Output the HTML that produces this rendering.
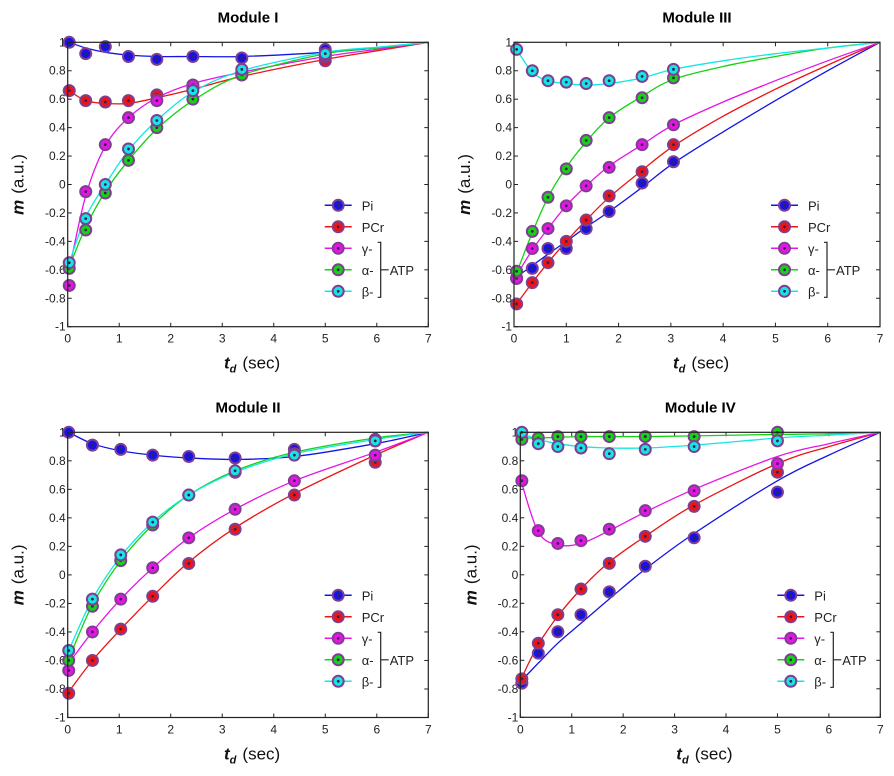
<!DOCTYPE html>
<html><head><meta charset="utf-8"><style>
body{margin:0;background:#fff;}
svg{display:block;font-family:"Liberation Sans",sans-serif;}
</style></head><body>
<svg id="chart" width="894" height="776"></svg>
<script>
// Module I
const tI=[0.03,0.35,0.73,1.18,1.73,2.43,3.38,5.0];
const fitTI=[0.03,0.35,0.73,1.18,1.73,2.43,3.38,5.0,6,7];
const piI=[1.0,0.92,0.97,0.90,0.88,0.90,0.89,0.95];
const piIfit=[1.0,0.96,0.93,0.91,0.90,0.90,0.90,0.93,0.96,1];
const pcrI=[0.66,0.59,0.58,0.59,0.63,0.68,0.78,0.87];
const pcrIfit=[0.66,0.59,0.57,0.57,0.61,0.67,0.76,0.88,0.94,1];
const gI=[-0.71,-0.05,0.28,0.47,0.59,0.70,0.79,0.90];
const gIfit=[-0.60,-0.08,0.27,0.47,0.61,0.71,0.79,0.90,0.95,1];
const aI=[-0.59,-0.32,-0.06,0.17,0.40,0.60,0.77,0.91];
const aIfit=[-0.58,-0.30,-0.05,0.17,0.39,0.59,0.77,0.92,0.96,1];
const bI=[-0.55,-0.24,0.0,0.25,0.45,0.66,0.81,0.92];
const bIfit=[-0.55,-0.23,0.0,0.24,0.45,0.65,0.80,0.93,0.965,1];
// Module III
const tIII=[0.05,0.35,0.65,1.0,1.38,1.82,2.45,3.05];
const fitTIII=[0.05,0.35,0.65,1.0,1.38,1.82,2.45,3.05,4,5,6,7];
const piIII=[-0.66,-0.59,-0.45,-0.45,-0.31,-0.19,0.01,0.16];
const piIIIfit=[-0.65,-0.57,-0.49,-0.40,-0.30,-0.19,-0.02,0.15,0.37,0.59,0.80,1];
const pcrIII=[-0.84,-0.69,-0.55,-0.40,-0.25,-0.08,0.09,0.28];
const pcrIIIfit=[-0.84,-0.69,-0.55,-0.40,-0.25,-0.09,0.10,0.27,0.48,0.67,0.84,1];
const gIII=[-0.66,-0.45,-0.31,-0.15,-0.01,0.12,0.28,0.42];
const gIIIfit=[-0.64,-0.46,-0.31,-0.15,-0.01,0.13,0.28,0.42,0.58,0.73,0.87,1];
const aIII=[-0.61,-0.33,-0.09,0.11,0.31,0.47,0.61,0.75];
const aIIIfit=[-0.62,-0.34,-0.09,0.12,0.30,0.47,0.62,0.74,0.83,0.90,0.96,1];
const bIII=[0.95,0.80,0.73,0.72,0.71,0.73,0.76,0.81];
const bIIIfit=[0.95,0.79,0.73,0.71,0.70,0.71,0.75,0.81,0.87,0.92,0.96,1];
// Module II
const tII=[0.02,0.48,1.03,1.65,2.35,3.25,4.4,5.97];
const fitTII=[0.02,0.48,1.03,1.65,2.35,3.25,4.4,5.97,7];
const piII=[1.0,0.91,0.88,0.84,0.83,0.82,0.88,0.94];
const piIIfit=[1.0,0.92,0.87,0.84,0.82,0.81,0.83,0.92,1];
const pcrII=[-0.83,-0.60,-0.38,-0.15,0.08,0.32,0.56,0.79];
const pcrIIfit=[-0.82,-0.60,-0.38,-0.15,0.09,0.33,0.57,0.84,1];
const gII=[-0.67,-0.40,-0.17,0.05,0.26,0.46,0.66,0.84];
const gIIfit=[-0.62,-0.40,-0.17,0.05,0.26,0.46,0.66,0.86,1];
const aII=[-0.60,-0.22,0.10,0.35,0.56,0.72,0.85,0.95];
const aIIfit=[-0.59,-0.21,0.10,0.35,0.56,0.73,0.86,0.96,1];
const bII=[-0.53,-0.17,0.14,0.37,0.56,0.73,0.84,0.94];
const bIIfit=[-0.53,-0.17,0.13,0.37,0.56,0.72,0.85,0.95,1];
// Module IV
const tIV=[0.03,0.35,0.73,1.18,1.73,2.43,3.38,5.0];
const fitTIV=[0.03,0.35,0.73,1.18,1.73,2.43,3.38,5.0,6,7];
const piIV=[-0.76,-0.55,-0.40,-0.28,-0.12,0.06,0.26,0.58];
const piIVfit=[-0.74,-0.62,-0.48,-0.34,-0.17,0.04,0.29,0.66,0.84,1];
const pcrIV=[-0.73,-0.48,-0.28,-0.10,0.08,0.27,0.48,0.72];
const pcrIVfit=[-0.72,-0.49,-0.29,-0.10,0.09,0.27,0.49,0.78,0.90,1];
const gIV=[0.66,0.31,0.22,0.24,0.32,0.45,0.59,0.78];
const gIVfit=[0.64,0.30,0.21,0.22,0.31,0.44,0.60,0.83,0.92,1];
const aIV=[0.95,0.96,0.97,0.97,0.97,0.97,0.97,1.0];
const aIVfit=[0.96,0.96,0.965,0.97,0.97,0.97,0.975,0.985,0.99,1];
const bIV=[1.0,0.92,0.90,0.89,0.85,0.88,0.90,0.94];
const bIVfit=[0.99,0.95,0.92,0.90,0.89,0.89,0.91,0.96,0.98,1];

const xTicks=[0,1,2,3,4,5,6,7];
const yTicks=[1,0.8,0.6,0.4,0.2,0,-0.2,-0.4,-0.6,-0.8,-1];
const yTickLabels=["1","0.8","0.6","0.4","0.2","0","-0.2","-0.4","-0.6","-0.8","-1"];
const seriesNames=["Pi","PCr","γ-","α-","β-"];
const seriesKeys=["pi","pcr","gamma","alpha","beta"];
const colors=["#1414e6","#ec1414","#e614e6","#14d214","#14e6e6"];

const NS="http://www.w3.org/2000/svg";
const svg=document.getElementById('chart');
function mk(tag,attrs,parent){const e=document.createElementNS(NS,tag);for(const k in attrs)e.setAttribute(k,attrs[k]);(parent||svg).appendChild(e);return e;}

function smoothPath(pts){
  let d="M"+pts[0][0].toFixed(1)+","+pts[0][1].toFixed(1);
  for(let i=0;i<pts.length-1;i++){
    const p0=pts[Math.max(0,i-1)],p1=pts[i],p2=pts[i+1],p3=pts[Math.min(pts.length-1,i+2)];
    const c1=[p1[0]+(p2[0]-p0[0])/6,p1[1]+(p2[1]-p0[1])/6];
    const c2=[p2[0]-(p3[0]-p1[0])/6,p2[1]-(p3[1]-p1[1])/6];
    d+=" C"+c1[0].toFixed(1)+","+c1[1].toFixed(1)+" "+c2[0].toFixed(1)+","+c2[1].toFixed(1)+" "+p2[0].toFixed(1)+","+p2[1].toFixed(1);
  }
  return d;
}

function marker(g,x,y,c){
  const m=mk('circle',{cx:x,cy:y,r:5.5,fill:c,stroke:'#7e3f90','stroke-width':2},g);
  
  
  const d=mk('circle',{cx:x,cy:y,r:1.4,fill:'#3a2050'},g);
  
  
}

function panel(id,title,x0,x1,yT,yB,t,fitT,dots,fits){
  const g=mk('g',{});
  
  
  const X=v=>x0+(x1-x0)*v/7;
  const Y=v=>yB-(yB-yT)*(v+1)/2;
  const ti=mk('text',{x:(x0+x1)/2,y:yT-20,'text-anchor':'middle','font-size':15,'font-weight':'bold'},g);
  ti.textContent=title;
  
  
  xTicks.forEach(v=>{
    const x=X(v);
    mk('line',{x1:x,x2:x,y1:yB,y2:yB-4,stroke:'#222'},g);
    mk('line',{x1:x,x2:x,y1:yT,y2:yT+4,stroke:'#222'},g);
    const l=mk('text',{x:x,y:yB+16,'text-anchor':'middle','font-size':12,fill:'#222'},g);
    l.textContent=String(v);
    
    
  });
  yTicks.forEach((v,i)=>{
    const y=Y(v);
    mk('line',{x1:x0,x2:x0+4,y1:y,y2:y,stroke:'#222'},g);
    mk('line',{x1:x1,x2:x1-4,y1:y,y2:y,stroke:'#222'},g);
    const l=mk('text',{x:x0-2,y:y+4,'text-anchor':'end','font-size':12,fill:'#222'},g);
    l.textContent=yTickLabels[i];
    
    
  });
  fits.forEach((f,s)=>{
    const p=mk('path',{d:smoothPath(f.map((v,i)=>[X(fitT[i]),Y(v)])),fill:'none',stroke:colors[s],'stroke-width':1.3},g);
    
    
  });
  dots.forEach((arr,s)=>{arr.forEach((v,i)=>marker(g,X(t[i]),Y(v),colors[s]));});
  const b=mk('rect',{x:x0,y:yT,width:x1-x0,height:yB-yT,fill:'none',stroke:'#222','stroke-width':1.2},g);
  
  
  const xt=mk('text',{x:(x0+x1)/2-24,y:yB+42,'font-size':17,fill:'#111'},g);
  xt.innerHTML='<tspan font-weight="bold" font-style="italic">t</tspan><tspan font-weight="bold" font-style="italic" font-size="11" dy="4">d</tspan><tspan dy="-4" dx="6">(sec)</tspan>';
  
  
  const yc=(yT+yB)/2, yx=x0-44;
  const yt=mk('text',{x:yx,y:yc,'text-anchor':'middle','font-size':17,fill:'#111',transform:`rotate(-90 ${yx} ${yc})`},g);
  yt.innerHTML='<tspan font-weight="bold" font-style="italic">m</tspan><tspan dx="6">(a.u.)</tspan>';
  
  
  const lg=mk('g',{},g);
  
  
  const lx=x0+257, ly=yT+163;
  seriesNames.forEach((n,s)=>{
    const y=ly+s*21.5;
    const e=mk('g',{},lg);
    
    
    mk('line',{x1:lx,x2:lx+27,y1:y,y2:y,stroke:colors[s],'stroke-width':1.5},e);
    marker(e,lx+13.5,y,colors[s]);
    const tx=mk('text',{x:lx+37,y:y+5,'font-size':13,fill:'#222'},e);
    tx.textContent=n;
  });
  const by1=ly+2*21.5-6,by2=ly+4*21.5+6,bx=lx+56;
  mk('path',{d:`M${bx-3},${by1} H${bx} V${by2} H${bx-3} M${bx},${ly+3*21.5} H${bx+8}`,fill:'none',stroke:'#222','stroke-width':1.2},lg);
  const atp=mk('text',{x:bx+9,y:ly+3*21.5+5,'font-size':13,fill:'#222'},lg);
  atp.textContent='ATP';
  
  
}

panel('panel-module-i','Module I',67.7,428.3,42.3,326.7,tI,fitTI,[piI,pcrI,gI,aI,bI],[piIfit,pcrIfit,gIfit,aIfit,bIfit]);
panel('panel-module-iii','Module III',514,880,42.3,326.7,tIII,fitTIII,[piIII,pcrIII,gIII,aIII,bIII],[piIIIfit,pcrIIIfit,gIIIfit,aIIIfit,bIIIfit]);
panel('panel-module-ii','Module II',67.7,428.3,432.3,717.5,tII,fitTII,[piII,pcrII,gII,aII,bII],[piIIfit,pcrIIfit,gIIfit,aIIfit,bIIfit]);
panel('panel-module-iv','Module IV',520.3,880.3,432.3,717.3,tIV,fitTIV,[piIV,pcrIV,gIV,aIV,bIV],[piIVfit,pcrIVfit,gIVfit,aIVfit,bIVfit]);
</script>
</body></html>
